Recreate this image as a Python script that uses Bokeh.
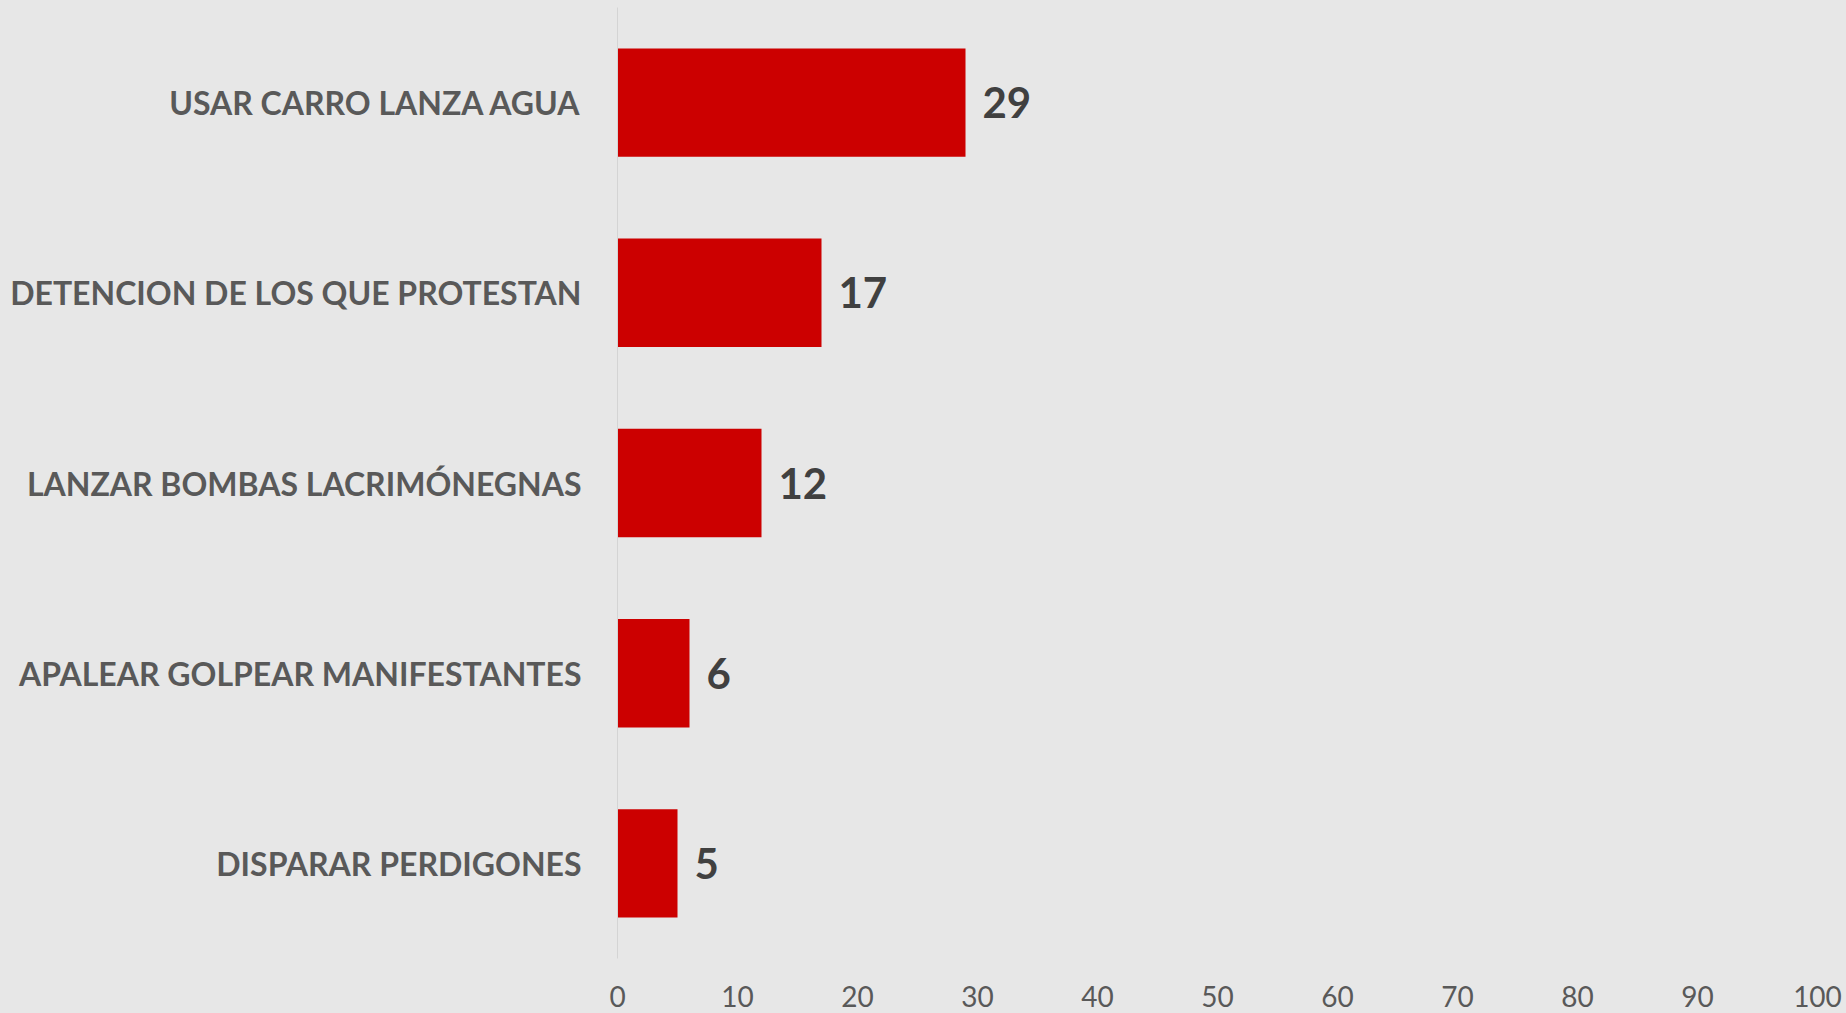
from bokeh.plotting import figure
from bokeh.models import ColumnDataSource, FactorRange, Range1d, FixedTicker
from bokeh.embed import file_html
from bokeh.resources import INLINE
from bokeh.core.properties import value

categories = [
    "USAR CARRO LANZA AGUA",
    "DETENCION DE LOS QUE PROTESTAN",
    "LANZAR BOMBAS LACRIMÓNEGNAS",
    "APALEAR GOLPEAR MANIFESTANTES",
    "DISPARAR PERDIGONES",
]
counts = [29, 17, 12, 6, 5]
x_ticks = [0, 10, 20, 30, 40, 50, 60, 70, 80, 90, 100]

BG = "#e7e7e7"
W, H = 1846, 1013

src = ColumnDataSource(dict(cat=categories, val=counts, lbl=[str(v) for v in counts]))

p = figure(
    width=W, height=H,
    y_range=FactorRange(factors=categories[::-1]),
    x_range=Range1d(0, 100),
    output_backend="svg", toolbar_location=None,
    min_border_left=617, min_border_right=29, min_border_top=7, min_border_bottom=55,
)
p.background_fill_color = BG
p.border_fill_color = BG
p.outline_line_color = None
p.xgrid.grid_line_color = None
p.ygrid.grid_line_color = None

p.hbar(y="cat", right="val", left=0, height=0.57, source=src,
       fill_color="#cc0000", line_color=None)

p.text(x="val", y="cat", text="lbl", source=src, x_offset=17,
       text_align="left", text_baseline="middle",
       text_font=value("Lato"), text_font_style="bold",
       text_font_size="42px", text_color="#404040")

xa = p.xaxis[0]
xa.ticker = FixedTicker(ticks=x_ticks)
xa.axis_line_color = None
xa.major_tick_line_color = None
xa.minor_tick_line_color = None
xa.major_tick_out = 0
xa.major_tick_in = 0
xa.major_label_text_font = "Lato"
xa.major_label_text_font_size = "28px"
xa.major_label_text_color = "#595959"
xa.major_label_standoff = 27

ya = p.yaxis[0]
ya.axis_line_color = "#d4d4d4"
ya.axis_line_width = 1
ya.major_tick_line_color = None
ya.minor_tick_line_color = None
ya.major_tick_out = 0
ya.major_tick_in = 0
ya.major_label_text_font = "Lato"
ya.major_label_text_font_style = "bold"
ya.major_label_text_font_size = "32px"
ya.major_label_text_color = "#595959"
ya.major_label_standoff = 36

html = file_html(p, INLINE)
html = html.replace(
    "<head>",
    '<head><style>html,body{overflow:hidden;background:%s;}</style>' % BG, 1)
open("out.html", "w").write(html)
